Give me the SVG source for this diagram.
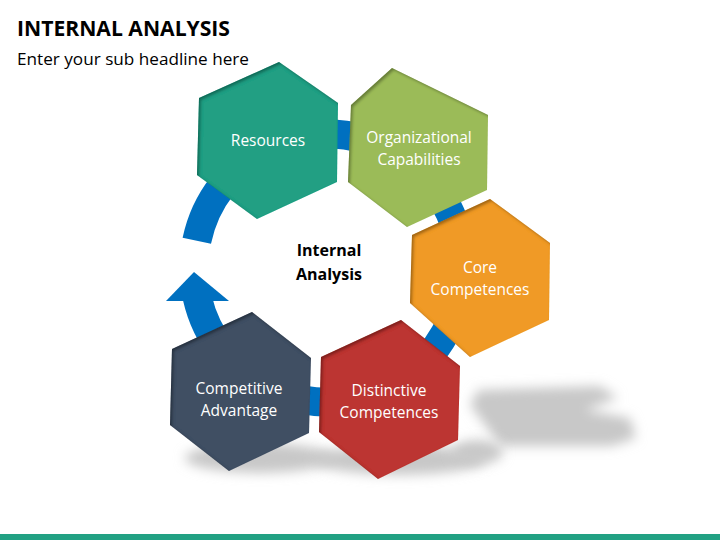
<svg xmlns="http://www.w3.org/2000/svg" width="720" height="540" viewBox="0 0 720 540">
  <style>
    .title { font-family: "Open Sans", "Liberation Sans", sans-serif; font-weight: bold; font-size: 22px; fill: #000; }
    .sub { font-family: "Open Sans", "Liberation Sans", sans-serif; font-size: 17px; fill: #000; }
    .lbl { font-family: "Open Sans", "Liberation Sans", sans-serif; font-size: 15.5px; fill: #fff; text-anchor: middle; }
    .center { font-family: "Open Sans", "Liberation Sans", sans-serif; font-weight: bold; font-size: 16px; fill: #000; text-anchor: middle; }
    .hex { filter: url(#inner); }
    .shadow { fill: #c8c8c8; filter: url(#blur); }
  </style>
  <defs>
    <filter id="inner" x="-10%" y="-10%" width="120%" height="120%">
      <feComponentTransfer in="SourceAlpha">
        <feFuncA type="table" tableValues="1 0"/>
      </feComponentTransfer>
      <feGaussianBlur stdDeviation="1.5"/>
      <feOffset dx="2" dy="2" result="off"/>
      <feFlood flood-color="#000" flood-opacity="0.6"/>
      <feComposite in2="off" operator="in"/>
      <feComposite in2="SourceAlpha" operator="in" result="shad"/>
      <feMerge>
        <feMergeNode in="SourceGraphic"/>
        <feMergeNode in="shad"/>
      </feMerge>
    </filter>
    <filter id="blur" x="-30%" y="-80%" width="160%" height="260%">
      <feGaussianBlur stdDeviation="6"/>
    </filter>
  </defs>

  <rect width="720" height="540" fill="#fff"/>

  <text class="title" x="17" y="36" textLength="213" lengthAdjust="spacingAndGlyphs">INTERNAL ANALYSIS</text>
  <text class="sub" x="17" y="65" textLength="232" lengthAdjust="spacingAndGlyphs">Enter your sub headline here</text>

  <g id="shadows">
    <ellipse class="shadow" cx="260" cy="458" rx="75" ry="15"/>
    <ellipse class="shadow" cx="400" cy="460" rx="85" ry="15"/>
    <polygon class="shadow" points="478,390 600,386 618,398 585,410 630,418 636,438 612,446 500,446 485,425 470,405"/>
    <ellipse class="shadow" cx="478" cy="452" rx="25" ry="12"/>
  </g>

  <g id="connectors">
    <path d="M 197.3 297.7 A 134 134 0 1 0 196.8 240.8" fill="none" stroke="#0070C0" stroke-width="29"/>
    <polygon points="194,272 229,301 166,301" fill="#0070C0"/>
  </g>

  <g id="resources">
    <polygon class="hex" points="279,62 338,103 337,182 257,219 197,175 199,98" fill="#209F83"/>
    <text class="lbl" x="268" y="146">Resources</text>
  </g>
  <g id="organizational">
    <polygon class="hex" points="392,68 488,115 487,190 407,227 348,182 351,105" fill="#9BBB59"/>
    <text class="lbl" x="419" y="143">Organizational</text>
    <text class="lbl" x="419" y="165">Capabilities</text>
  </g>
  <g id="core">
    <polygon class="hex" points="490,199 550,243 549,320 470,357 410,303 412,235" fill="#F09A28"/>
    <text class="lbl" x="480" y="273">Core</text>
    <text class="lbl" x="480" y="295">Competences</text>
  </g>
  <g id="distinctive">
    <polygon class="hex" points="401,320 460,366 458,440 378,479 319,432 321,357" fill="#BC3630"/>
    <text class="lbl" x="389" y="396">Distinctive</text>
    <text class="lbl" x="389" y="418">Competences</text>
  </g>
  <g id="competitive">
    <polygon class="hex" points="252,312 311,358 309,433 229,471 170,425 172,349" fill="#414F63"/>
    <text class="lbl" x="239" y="394">Competitive</text>
    <text class="lbl" x="239" y="416">Advantage</text>
  </g>
  <g id="center-label">
    <text class="center" x="329" y="256">Internal</text>
    <text class="center" x="329" y="280">Analysis</text>
  </g>

  <rect x="0" y="534" width="720" height="6" fill="#21A183"/>
</svg>
